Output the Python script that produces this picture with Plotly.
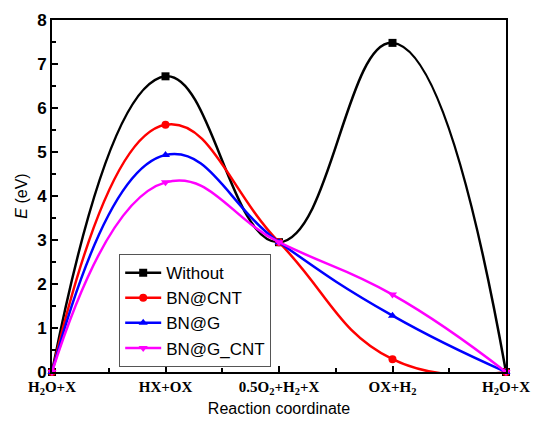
import plotly.graph_objects as go

x_pos = [0, 1, 2, 3, 4]
tick_labels = ["H<sub>2</sub>O+X", "HX+OX", "0.5O<sub>2</sub>+H<sub>2</sub>+X", "OX+H<sub>2</sub>", "H<sub>2</sub>O+X"]

without = [0, 6.72, 2.95, 7.48, 0]
bn_cnt = [0, 5.62, 2.95, 0.29, 0]
bn_g = [0, 4.93, 2.95, 1.28, 0]
bn_g_cnt = [0, 4.31, 2.95, 1.76, 0]

series = [
    ("Without", without, "#000000", "square"),
    ("BN@CNT", bn_cnt, "#FF0000", "circle"),
    ("BN@G", bn_g, "#0000FF", "triangle-up"),
    ("BN@G_CNT", bn_g_cnt, "#FF00FF", "triangle-down"),
]

fig = go.Figure()
for name, vals, col, sym in series:
    fig.add_trace(go.Scatter(
        x=x_pos, y=vals, name=name, mode="lines+markers",
        line=dict(color=col, width=2.5, shape="spline", smoothing=1.3),
        marker=dict(color=col, symbol=sym, size=8),
        cliponaxis=False,
    ))

fig.update_layout(
    width=532, height=410,
    margin=dict(l=44, r=34, t=12, b=46, autoexpand=False),
    paper_bgcolor="white", plot_bgcolor="white",
    font=dict(family="Liberation Sans, Arial", color="black"),
    showlegend=True,
    legend=dict(
        x=0.148, y=0.335, xanchor="left", yanchor="top",
        bordercolor="#555555", borderwidth=1, bgcolor="white",
        font=dict(size=17, family="Liberation Sans, Arial"),
        tracegroupgap=0, itemwidth=36,
    ),
    xaxis=dict(
        range=[0, 4], tickvals=x_pos, ticktext=tick_labels, automargin=False,
        tickfont=dict(family="Liberation Serif, Times New Roman", size=15, color="black", weight="bold"),
        ticks="inside", ticklen=6, tickwidth=2, tickcolor="black",
        minor=dict(dtick=0.5, ticks="inside", ticklen=4, tickwidth=2, tickcolor="black"),
        showline=True, linecolor="black", linewidth=2, mirror=True,
        showgrid=False, zeroline=False,
        title=dict(text="Reaction coordinate", font=dict(size=16), standoff=7),
    ),
    yaxis=dict(
        range=[0, 8], dtick=1, automargin=False,
        tickfont=dict(size=17, family="Liberation Sans, Arial", weight="bold", color="black"),
        ticks="inside", ticklen=6, tickwidth=2, tickcolor="black",
        minor=dict(dtick=0.5, ticks="inside", ticklen=4, tickwidth=2, tickcolor="black"),
        showline=True, linecolor="black", linewidth=2, mirror=True,
        showgrid=False, zeroline=False,
        title=dict(text="<i>E</i> (eV)", font=dict(size=16), standoff=6),
    ),
)

fig.write_html("out.html")
